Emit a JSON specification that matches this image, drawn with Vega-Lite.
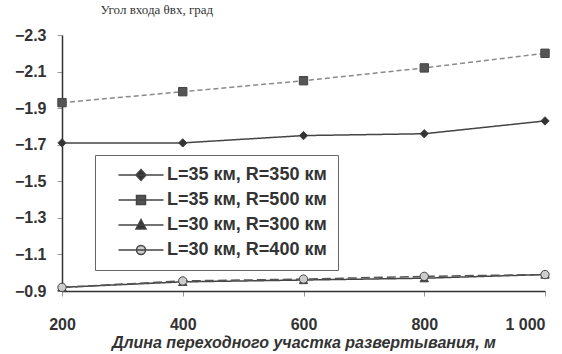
{
  "$schema": "https://vega.github.io/schema/vega-lite/v6.json",
  "width": 483,
  "height": 256,
  "autosize": {"type": "none"},
  "padding": {"left": 62, "top": 35, "right": 17, "bottom": 63},
  "background": "#ffffff",
  "config": {"view": {"stroke": null}},
  "data": {
    "values": [
      {"x": 200, "v": -1.71, "series": "L=35 км, R=350 км"},
      {"x": 400, "v": -1.71, "series": "L=35 км, R=350 км"},
      {"x": 600, "v": -1.75, "series": "L=35 км, R=350 км"},
      {"x": 800, "v": -1.76, "series": "L=35 км, R=350 км"},
      {"x": 1000, "v": -1.83, "series": "L=35 км, R=350 км"},
      {"x": 200, "v": -1.93, "series": "L=35 км, R=500 км"},
      {"x": 400, "v": -1.99, "series": "L=35 км, R=500 км"},
      {"x": 600, "v": -2.05, "series": "L=35 км, R=500 км"},
      {"x": 800, "v": -2.12, "series": "L=35 км, R=500 км"},
      {"x": 1000, "v": -2.2, "series": "L=35 км, R=500 км"},
      {"x": 200, "v": -0.92, "series": "L=30 км, R=300 км"},
      {"x": 400, "v": -0.95, "series": "L=30 км, R=300 км"},
      {"x": 600, "v": -0.96, "series": "L=30 км, R=300 км"},
      {"x": 800, "v": -0.97, "series": "L=30 км, R=300 км"},
      {"x": 1000, "v": -0.99, "series": "L=30 км, R=300 км"},
      {"x": 200, "v": -0.92, "series": "L=30 км, R=400 км"},
      {"x": 400, "v": -0.955, "series": "L=30 км, R=400 км"},
      {"x": 600, "v": -0.965, "series": "L=30 км, R=400 км"},
      {"x": 800, "v": -0.98, "series": "L=30 км, R=400 км"},
      {"x": 1000, "v": -0.99, "series": "L=30 км, R=400 км"}
    ]
  },
  "encoding": {
    "x": {
      "field": "x", "type": "quantitative",
      "scale": {"domain": [200, 1000], "nice": false, "zero": false},
      "axis": {
        "values": [200, 400, 600, 800, 1000],
        "labelExpr": "datum.value == 1000 ? '1 000' : datum.label",
        "labelFlush": false,
        "labelAlign": {"expr": "datum.value == 1000 ? 'right' : 'center'"},
        "grid": false,
        "domainColor": "#333", "domainWidth": 1.5,
        "tickColor": "#999", "tickSize": 5,
        "labelPadding": 20,
        "labelFont": "Liberation Sans", "labelFontSize": 16, "labelFontWeight": "bold", "labelColor": "#333",
        "title": "Длина переходного участка развертывания, м",
        "titleFont": "Liberation Sans", "titleFontSize": 16, "titleFontStyle": "italic", "titleFontWeight": "bold",
        "titleColor": "#333", "titlePadding": 2
      }
    },
    "y": {
      "field": "v", "type": "quantitative",
      "scale": {"domain": [-2.3, -0.9], "reverse": true, "nice": false, "zero": false},
      "axis": {
        "values": [-2.3, -2.1, -1.9, -1.7, -1.5, -1.3, -1.1, -0.9],
        "format": ".1f",
        "labelFlush": false,
        "grid": false,
        "domainColor": "#333", "domainWidth": 1.5,
        "tickColor": "#999", "tickSize": 5,
        "labelPadding": 11,
        "labelFont": "Liberation Sans", "labelFontSize": 16, "labelFontWeight": "bold", "labelColor": "#333",
        "title": "Угол входа θвх, град",
        "titleFont": "Liberation Serif", "titleFontSize": 13, "titleFontWeight": "normal", "titleColor": "#333",
        "titleAngle": 0, "titleAlign": "left", "titleBaseline": "middle",
        "titleX": 38, "titleY": -26
      }
    }
  },
  "layer": [
    {
      "mark": {"type": "line", "strokeWidth": 1.5},
      "encoding": {
        "stroke": {
          "field": "series", "type": "nominal", "legend": null,
          "scale": {
            "domain": ["L=35 км, R=350 км", "L=35 км, R=500 км", "L=30 км, R=300 км", "L=30 км, R=400 км"],
            "range": ["#444444", "#8a8a8a", "#444444", "#555555"]
          }
        },
        "strokeDash": {
          "field": "series", "type": "nominal", "legend": null,
          "scale": {
            "domain": ["L=35 км, R=350 км", "L=35 км, R=500 км", "L=30 км, R=300 км", "L=30 км, R=400 км"],
            "range": [[1, 0], [5, 3], [1, 0], [9, 4]]
          }
        }
      }
    },
    {
      "mark": {"type": "point", "filled": true, "size": 70, "stroke": "#444", "strokeWidth": 1, "opacity": 1},
      "encoding": {
        "shape": {
          "field": "series", "type": "nominal", "legend": null,
          "scale": {
            "domain": ["L=35 км, R=350 км", "L=35 км, R=500 км", "L=30 км, R=300 км", "L=30 км, R=400 км"],
            "range": ["diamond", "square", "triangle-up", "circle"]
          }
        },
        "fill": {
          "field": "series", "type": "nominal", "legend": null,
          "scale": {
            "domain": ["L=35 км, R=350 км", "L=35 км, R=500 км", "L=30 км, R=300 км", "L=30 км, R=400 км"],
            "range": ["#333333", "#555555", "#333333", "#cccccc"]
          }
        }
      }
    },
    {
      "mark": {"type": "point", "filled": true, "size": 0, "stroke": "#444", "strokeWidth": 1.5, "opacity": 1},
      "encoding": {
        "shape": {
          "field": "series", "type": "nominal",
          "scale": {
            "domain": ["L=35 км, R=350 км", "L=35 км, R=500 км", "L=30 км, R=300 км", "L=30 км, R=400 км"],
            "range": [
              "M-4.5,0H4.5M0,-1.1L1,0L0,1.1L-1,0Z",
              "M-4.5,0H4.5M-0.9,-0.9H0.9V0.9H-0.9Z",
              "M-4.5,0H4.5M0,-1.1L1,0.8L-1,0.8Z",
              "M-4.5,0H4.5M0.9,0A0.9,0.9,0,1,1,-0.9,0A0.9,0.9,0,1,1,0.9,0Z"
            ]
          },
          "legend": {
            "title": null,
            "orient": "none",
            "legendX": 33,
            "legendY": 120,
            "padding": 11,
            "symbolSize": 100,
            "symbolOffset": 26,
            "labelOffset": 17,
            "rowPadding": 7,
            "symbolOpacity": 1,
            "labelFont": "Liberation Sans",
            "labelFontSize": 18,
            "labelFontWeight": "bold",
            "labelColor": "#333",
            "labelLimit": 300,
            "strokeColor": "#666",
            "fillColor": "#ffffff"
          }
        },
        "fill": {
          "field": "series", "type": "nominal",
          "scale": {
            "domain": ["L=35 км, R=350 км", "L=35 км, R=500 км", "L=30 км, R=300 км", "L=30 км, R=400 км"],
            "range": ["#333333", "#555555", "#333333", "#cccccc"]
          },
          "legend": {
            "title": null,
            "orient": "none",
            "legendX": 33,
            "legendY": 120,
            "padding": 11,
            "symbolSize": 100,
            "symbolOffset": 26,
            "labelOffset": 17,
            "rowPadding": 7,
            "symbolOpacity": 1,
            "labelFont": "Liberation Sans",
            "labelFontSize": 18,
            "labelFontWeight": "bold",
            "labelColor": "#333",
            "labelLimit": 300,
            "strokeColor": "#666",
            "fillColor": "#ffffff"
          }
        }
      }
    }
  ],
  "resolve": {"scale": {"shape": "independent", "fill": "independent"}}
}
